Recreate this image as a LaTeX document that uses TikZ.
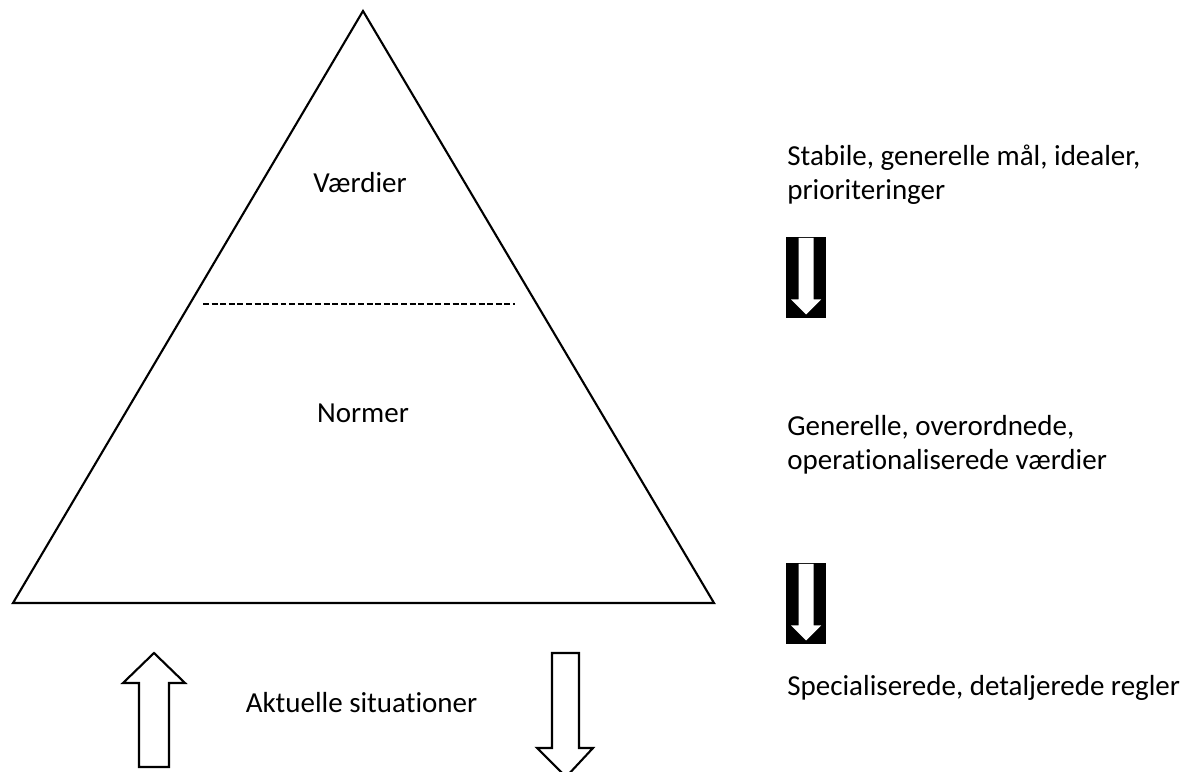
\documentclass[tikz,border=0pt]{standalone}
\usepackage{fontspec}
\setmainfont{Carlito}[Ligatures=NoCommon]
\usepackage{tikz}
\usetikzlibrary{calc}
\tikzset{
  edge/.style={draw=black, line width=1.2pt, line join=miter},
  sep/.style={draw=black, line width=0.6pt, dash pattern=on 3.4pt off 1.5pt},
  blk/.style={fill=black},
  wht/.style={fill=white},
  hollow/.style={draw=black, fill=white, line width=1.2pt, line join=miter},
  lab/.style={text=black, font=\fontsize{16.5}{19.8}\selectfont, inner sep=0pt},
  side/.style={lab, anchor=base west, align=left},
}

\begin{document}
\begin{tikzpicture}
  \useasboundingbox (0,0) rectangle (23.74,15.42);
  \coordinate (L) at (0.26,3.36);
  \coordinate (R) at (14.28,3.36);
  \coordinate (T) at (7.26,15.20);
  \draw[edge] (L) -- (R) -- (T) -- cycle;
  \coordinate (S1) at (4.06,9.34);
  \coordinate (S2) at (10.30,9.34);
  \draw[sep] (S1) -- (S2);
  \node[lab, anchor=base] (vaerdier) at (7.20,11.56) {Værdier};
  \node[lab, anchor=base] (normer) at (7.26,6.96) {Normer};
  \node[lab, anchor=base] (aktuelle) at (7.23,1.18) {Aktuelle situationer};
  % up and down arrows under the triangle
  \draw[hollow] (2.78,0.08) -- (2.78,1.76) -- (2.46,1.76) -- (3.08,2.36)
    -- (3.70,1.76) -- (3.38,1.76) -- (3.38,0.08) -- cycle;
  \draw[hollow] (11.04,2.36) -- (11.04,0.46) -- (10.74,0.46) -- (11.32,-0.12)
    -- (11.86,0.46) -- (11.58,0.46) -- (11.58,2.36) -- cycle;
  % right column (base = last line)
  \node[side] (stabile) at (15.74,11.42) {Stabile, generelle mål, idealer,\\prioriteringer};
  \node[side] (generelle) at (15.74,6.02) {Generelle, overordnede,\\operationaliserede værdier};
  \node[side] (special) at (15.74,1.52) {Specialiserede, detaljerede regler};
  \foreach \y in {10.68,4.16}{
    \fill[blk] (15.72,\y) rectangle ++(0.80,-1.62);
    \fill[wht] (15.97,\y-0.02) -- (15.97,\y-1.25) -- (15.82,\y-1.25)
      -- (16.12,\y-1.55) -- (16.42,\y-1.25) -- (16.27,\y-1.25)
      -- (16.27,\y-0.02) -- cycle;
  }
\end{tikzpicture}
\end{document}
